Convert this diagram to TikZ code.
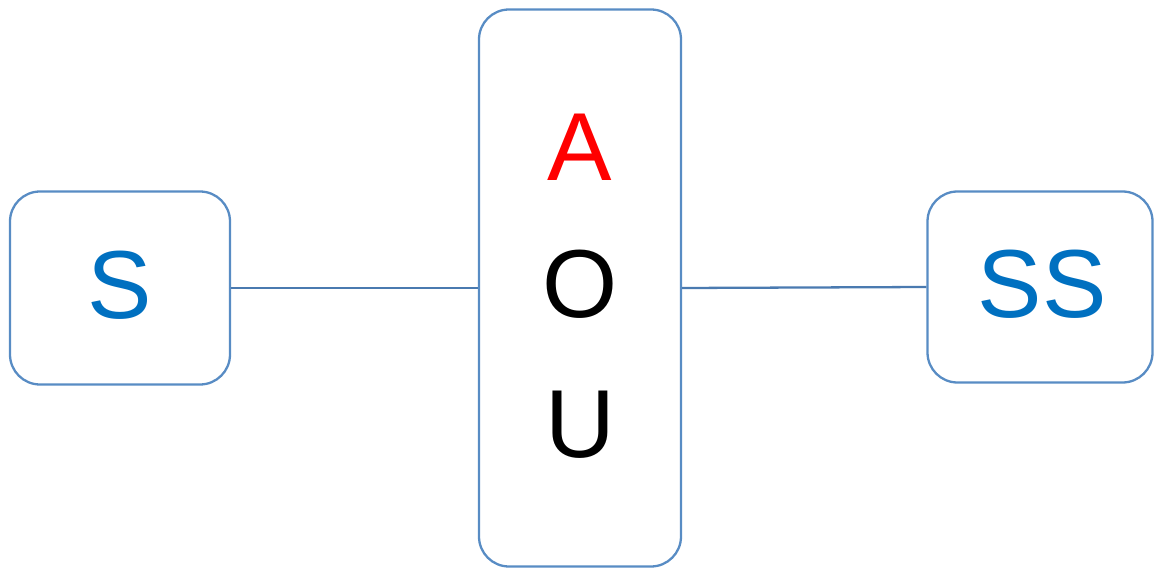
\documentclass[tikz,border=0pt]{standalone}
\usepackage{fontspec}
\setmainfont{Liberation Sans}
\usepackage{tikz}
\definecolor{boxline}{RGB}{88,140,196}
\definecolor{linkline}{RGB}{74,122,176}
\definecolor{textblue}{RGB}{0,112,192}

\begin{document}
\begin{tikzpicture}[x=0.02cm, y=-0.02cm,
	every node/.style={font=\fontsize{55}{60}\selectfont},
	box/.style={draw=boxline, line width=1.3pt, rounded corners=0.6cm, fill=white, inner sep=0pt},
	link/.style={linkline, line width=1.3pt},
	letter/.style={anchor=base, inner sep=0pt}]
	\useasboundingbox (0,0) rectangle (1154,568);
	% the three boxes
	\node[box, minimum width=220*0.02cm, minimum height=193*0.02cm] (s) at (120,288) {};
	\node[box, minimum width=202*0.02cm, minimum height=557*0.02cm] (aou) at (580,288) {};
	\node[box, minimum width=225*0.02cm, minimum height=191*0.02cm] (ss) at (1040,287) {};
	% connectors
	\draw[link] (s.east) -- (aou.west);
	\draw[link] (aou.east) -- (ss.west);
	% labels
	\node[letter, textblue] (ls) at (120,318) {S};
	\node[letter, textblue] (lss) at (1042,317) {SS};
	\node[letter, red] (la) at (580,180) {A};
	\node[letter] (lo) at (580,317) {O};
	\node[letter] (lu) at (580,457) {U};
\end{tikzpicture}
\end{document}
